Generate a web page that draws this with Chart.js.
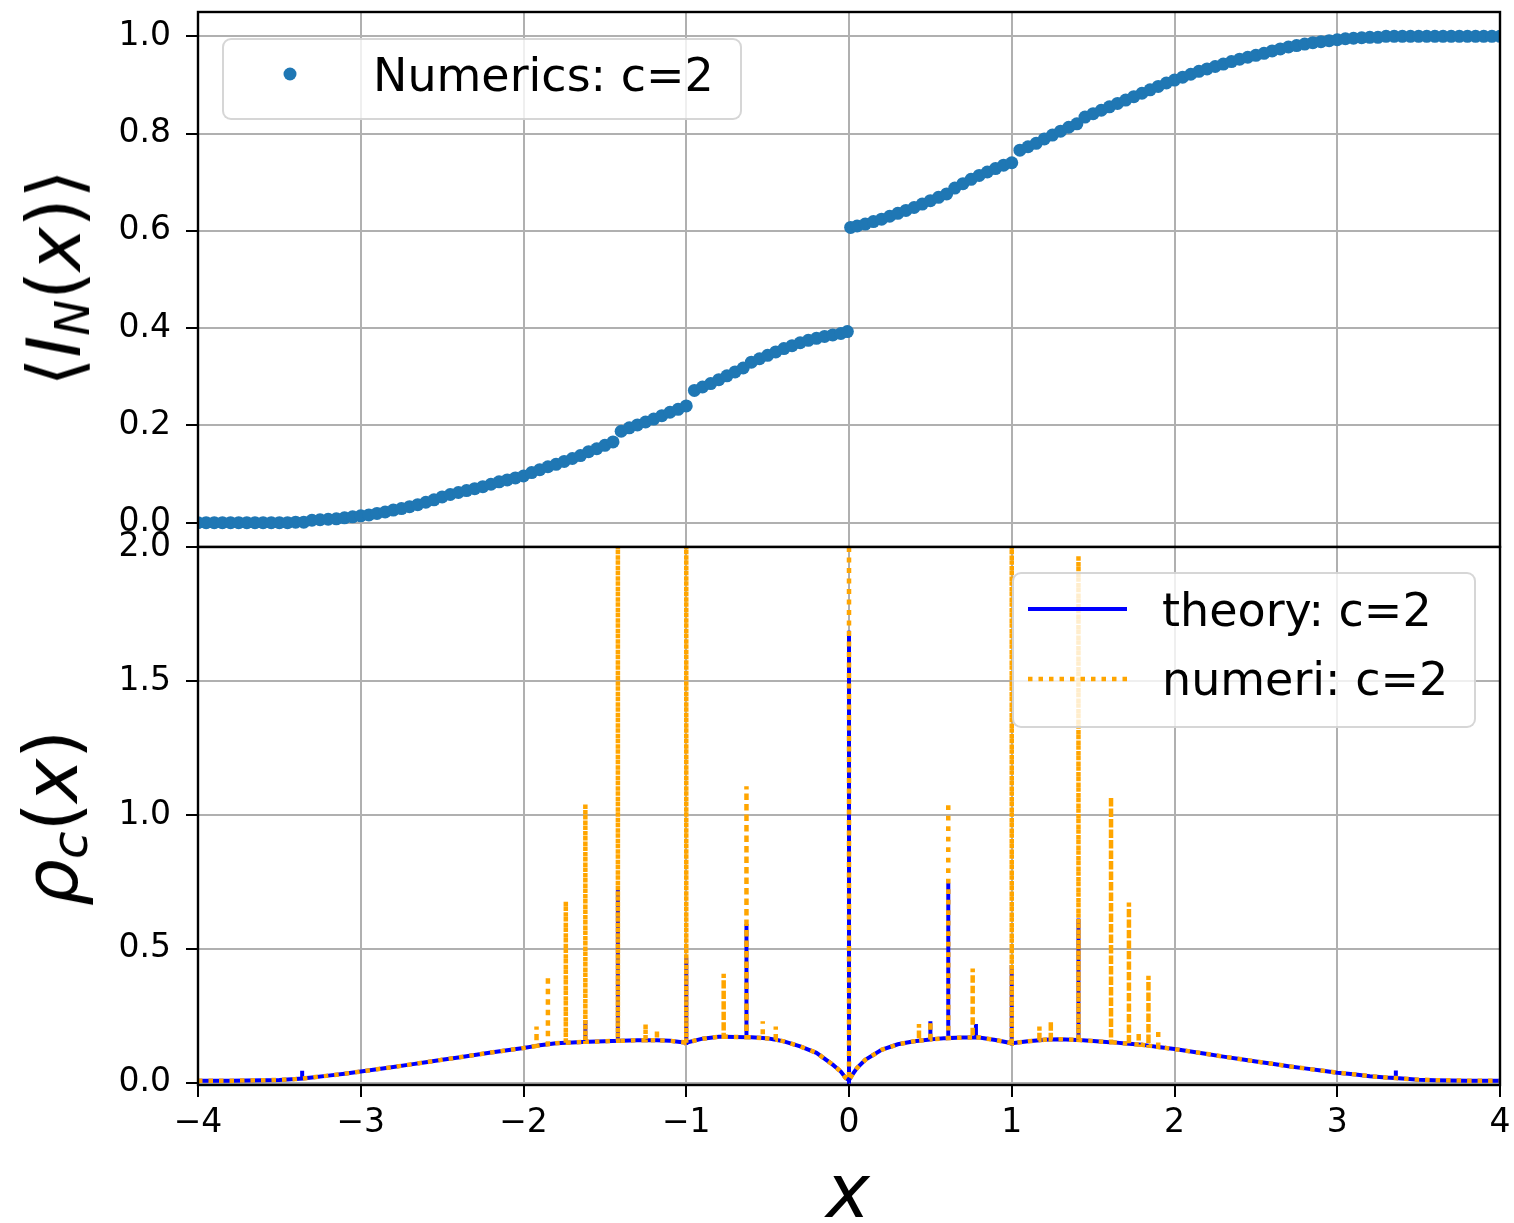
<!DOCTYPE html>
<html lang="en">
<head>
<meta charset="UTF-8" />
<title>Counting function and density, c=2</title>
<script src="https://cdn.jsdelivr.net/npm/chart.js"></script>
<style>
  body { margin: 0; background: #fff; font-family: "DejaVu Sans", sans-serif; }
  .stage { position: relative; width: 1514px; height: 1223px; overflow: hidden; background: #fff; }
  canvas { position: absolute; left: 0; }
  #topChart { top: 0; }
  #bottomChart { top: 520px; }
  .title { position: absolute; font-size: 74px; line-height: 1; white-space: nowrap; color: #000; }
  .title sub { line-height: 0; }
  .rot { transform: translate(-50%, -50%) rotate(-90deg); }
  .legend { position: absolute; box-sizing: border-box; background: rgba(255,255,255,0.8);
            border: 2px solid rgba(204,204,204,0.8); border-radius: 9px; }
  .legend span { position: absolute; font-size: 46px; line-height: 1; white-space: nowrap; color: #000; }
  .legend svg { position: absolute; overflow: visible; }
</style>
</head>
<body>
<div class="stage">
  <canvas id="topChart" width="1514" height="548"></canvas>
  <canvas id="bottomChart" width="1514" height="703"></canvas>

  <div class="title rot" style="left:54px; top:278px;">⟨<i>I</i><sub style="font-size:0.65em; vertical-align:-9px;"><i>N</i></sub>(<i>x</i>)⟩</div>
  <div class="title rot" style="left:51px; top:818px;"><i>ρ</i><sub style="font-size:0.68em; vertical-align:-10px;"><i>c</i></sub>(<i>x</i>)</div>
  <div class="title" style="left:848px; top:1154px; transform: translateX(-50%);"><i>x</i></div>

  <div class="legend" style="left:222px; top:38px; width:520px; height:82px;">
    <svg style="left:59px; top:27px;" width="14" height="14"><circle cx="7" cy="7" r="6.5" fill="#1f77b4" /></svg>
    <span style="left:149px; top:12px;">Numerics: c=2</span>
  </div>
  <div class="legend" style="left:1012px; top:572px; width:464px; height:156px;">
    <svg style="left:14px; top:30px;" width="100" height="10"><line x1="0" y1="5" x2="99" y2="5" stroke="#0000ff" stroke-width="4" /></svg>
    <svg style="left:14px; top:100px;" width="100" height="10"><line x1="0" y1="5" x2="99" y2="5" stroke="#ffa500" stroke-width="4.5" stroke-dasharray="4.5 6" /></svg>
    <span style="left:148px; top:13px;">theory: c=2</span>
    <span style="left:148px; top:82px;">numeri: c=2</span>
  </div>
</div>

<script>
  // axis ticks
  const xTicks = [-4, -3, -2, -1, 0, 1, 2, 3, 4];
  const topTicks = [0, 0.2, 0.4, 0.6, 0.8, 1.0];
  const bottomTicks = [0, 0.5, 1.0, 1.5, 2.0];

  // upper panel: <I_N(x)>, numerics
  const topX = [
    -4.00, -3.95, -3.90, -3.85, -3.80, -3.75, -3.70, -3.65, -3.60, -3.55,
    -3.50, -3.45, -3.40, -3.35, -3.30, -3.25, -3.20, -3.15, -3.10, -3.05,
    -3.00, -2.95, -2.90, -2.85, -2.80, -2.75, -2.70, -2.65, -2.60, -2.55,
    -2.50, -2.45, -2.40, -2.35, -2.30, -2.25, -2.20, -2.15, -2.10, -2.05,
    -2.00, -1.95, -1.90, -1.85, -1.80, -1.75, -1.70, -1.65, -1.60, -1.55,
    -1.50, -1.45, -1.40, -1.35, -1.30, -1.25, -1.20, -1.15, -1.10, -1.05,
    -1.00, -0.95, -0.90, -0.85, -0.80, -0.75, -0.70, -0.65, -0.60, -0.55,
    -0.50, -0.45, -0.40, -0.35, -0.30, -0.25, -0.20, -0.15, -0.10, -0.05,
    -0.01, 0.01,
    0.05, 0.10, 0.15, 0.20, 0.25, 0.30, 0.35, 0.40, 0.45, 0.50,
    0.55, 0.60, 0.65, 0.70, 0.75, 0.80, 0.85, 0.90, 0.95, 1.00,
    1.05, 1.10, 1.15, 1.20, 1.25, 1.30, 1.35, 1.40, 1.45, 1.50,
    1.55, 1.60, 1.65, 1.70, 1.75, 1.80, 1.85, 1.90, 1.95, 2.00,
    2.05, 2.10, 2.15, 2.20, 2.25, 2.30, 2.35, 2.40, 2.45, 2.50,
    2.55, 2.60, 2.65, 2.70, 2.75, 2.80, 2.85, 2.90, 2.95, 3.00,
    3.05, 3.10, 3.15, 3.20, 3.25, 3.30, 3.35, 3.40, 3.45, 3.50,
    3.55, 3.60, 3.65, 3.70, 3.75, 3.80, 3.85, 3.90, 3.95, 4.00
  ];
  const topY = [
    0.000, 0.000, 0.000, 0.000, 0.000, 0.000, 0.000, 0.000, 0.000, 0.000,
    0.000, 0.000, 0.001, 0.001, 0.005, 0.006, 0.007, 0.008, 0.010, 0.012,
    0.014, 0.016, 0.019, 0.022, 0.026, 0.029, 0.033, 0.037, 0.042, 0.047,
    0.053, 0.058, 0.062, 0.066, 0.070, 0.074, 0.079, 0.084, 0.088, 0.092,
    0.096, 0.103, 0.109, 0.115, 0.120, 0.126, 0.132, 0.138, 0.146, 0.152,
    0.159, 0.166, 0.188, 0.195, 0.201, 0.207, 0.213, 0.220, 0.227, 0.233,
    0.240, 0.272, 0.279, 0.286, 0.294, 0.302, 0.310, 0.318, 0.330, 0.337,
    0.344, 0.351, 0.358, 0.364, 0.370, 0.375, 0.379, 0.383, 0.386, 0.389,
    0.393, 0.607,
    0.610, 0.614, 0.619, 0.624, 0.630, 0.636, 0.642, 0.648, 0.655, 0.662,
    0.669, 0.676, 0.688, 0.697, 0.706, 0.714, 0.721, 0.728, 0.735, 0.740,
    0.766, 0.773, 0.780, 0.789, 0.797, 0.805, 0.813, 0.820, 0.834, 0.841,
    0.848, 0.855, 0.862, 0.869, 0.876, 0.883, 0.890, 0.897, 0.904, 0.910,
    0.916, 0.922, 0.928, 0.933, 0.938, 0.943, 0.948, 0.953, 0.957, 0.961,
    0.965, 0.970, 0.974, 0.978, 0.981, 0.984, 0.987, 0.989, 0.991, 0.993,
    0.995, 0.996, 0.997, 0.998, 0.998, 1.000, 1.000, 1.000, 1.000, 1.000,
    1.000, 1.000, 1.000, 1.000, 1.000, 1.000, 1.000, 1.000, 1.000, 1.000
  ];

  // lower panel: rho_c(x); each spike is three points at the same x (foot, peak, foot)
  const rhoX = [
    -4.00, -3.90, -3.80, -3.70, -3.60, -3.50, -3.40,
    -3.36, -3.36, -3.36,
    -3.30, -3.20, -3.10, -3.00, -2.90, -2.80, -2.70, -2.60, -2.50, -2.40,
    -2.30, -2.20, -2.10, -2.00,
    -1.92, -1.92, -1.92,
    -1.90,
    -1.85, -1.85, -1.85,
    -1.80,
    -1.74, -1.74, -1.74,
    -1.70,
    -1.62, -1.62, -1.62,
    -1.60, -1.50,
    -1.42, -1.42, -1.42,
    -1.40, -1.30,
    -1.25, -1.25, -1.25,
    -1.20,
    -1.18, -1.18, -1.18,
    -1.10,
    -1.00, -1.00, -1.00,
    -0.90, -0.80,
    -0.77, -0.77, -0.77,
    -0.70,
    -0.63, -0.63, -0.63,
    -0.60,
    -0.53, -0.53, -0.53,
    -0.50,
    -0.45, -0.45, -0.45,
    -0.40, -0.30, -0.20, -0.10, -0.05, -0.02,
    0.00, 0.00, 0.00,
    0.02, 0.05, 0.10, 0.20, 0.30, 0.40,
    0.43, 0.43, 0.43,
    0.50, 0.50, 0.50,
    0.60,
    0.61, 0.61, 0.61,
    0.70,
    0.76, 0.76, 0.76,
    0.78, 0.78, 0.78,
    0.80, 0.90,
    1.00, 1.00, 1.00,
    1.10,
    1.17, 1.17, 1.17,
    1.20,
    1.24, 1.24, 1.24,
    1.30, 1.40,
    1.41, 1.41, 1.41,
    1.50, 1.60,
    1.61, 1.61, 1.61,
    1.70,
    1.72, 1.72, 1.72,
    1.78, 1.78, 1.78,
    1.80,
    1.84, 1.84, 1.84,
    1.90, 1.90, 1.90,
    2.00, 2.10, 2.20, 2.30, 2.40, 2.50, 2.60, 2.70, 2.80, 2.90,
    3.00, 3.10, 3.20, 3.30,
    3.36, 3.36, 3.36,
    3.40, 3.50, 3.60, 3.70, 3.80, 3.90, 4.00
  ];
  const theoryRho = [
    0.008, 0.008, 0.008, 0.009, 0.010, 0.011, 0.014,
    0.016, 0.045, 0.016,
    0.020, 0.027, 0.034, 0.042, 0.051, 0.059, 0.068, 0.077, 0.086, 0.095,
    0.104, 0.113, 0.122, 0.130,
    0.138, 0.138, 0.138,
    0.140,
    0.144, 0.144, 0.144,
    0.148,
    0.150, 0.150, 0.150,
    0.151,
    0.153, 0.235, 0.153,
    0.153, 0.155,
    0.157, 0.720, 0.157,
    0.157, 0.159,
    0.159, 0.159, 0.159,
    0.159,
    0.159, 0.159, 0.159,
    0.157,
    0.150, 0.467, 0.150,
    0.165, 0.172,
    0.172, 0.172, 0.172,
    0.171,
    0.170, 0.593, 0.170,
    0.170,
    0.167, 0.167, 0.167,
    0.166,
    0.161, 0.161, 0.161,
    0.155, 0.136, 0.112, 0.068, 0.042, 0.018,
    0.010, 1.687, 0.010,
    0.030, 0.056, 0.086, 0.123, 0.144, 0.155,
    0.157, 0.157, 0.157,
    0.162, 0.230, 0.162,
    0.167,
    0.167, 0.747, 0.167,
    0.169,
    0.169, 0.169, 0.169,
    0.169, 0.220, 0.169,
    0.169, 0.160,
    0.148, 0.440, 0.148,
    0.155,
    0.159, 0.159, 0.159,
    0.161,
    0.162, 0.162, 0.162,
    0.163, 0.160,
    0.160, 0.613, 0.160,
    0.156, 0.152,
    0.152, 0.152, 0.152,
    0.147,
    0.146, 0.146, 0.146,
    0.143, 0.143, 0.143,
    0.142,
    0.139, 0.139, 0.139,
    0.134, 0.134, 0.134,
    0.126, 0.117, 0.108, 0.098, 0.089, 0.080, 0.071, 0.062, 0.054, 0.046,
    0.038, 0.032, 0.025, 0.020,
    0.018, 0.046, 0.018,
    0.016, 0.012, 0.010, 0.009, 0.008, 0.008, 0.008
  ];
  const numeriRho = [
    0.008, 0.008, 0.008, 0.009, 0.010, 0.011, 0.014,
    0.016, 0.016, 0.016,
    0.020, 0.027, 0.034, 0.042, 0.051, 0.059, 0.068, 0.077, 0.086, 0.095,
    0.104, 0.113, 0.122, 0.130,
    0.138, 0.210, 0.138,
    0.140,
    0.144, 0.400, 0.144,
    0.148,
    0.150, 0.678, 0.150,
    0.151,
    0.153, 1.040, 0.153,
    0.153, 0.155,
    0.157, 2.500, 0.157,
    0.157, 0.159,
    0.159, 0.220, 0.159,
    0.159,
    0.159, 0.200, 0.159,
    0.157,
    0.150, 2.500, 0.150,
    0.165, 0.172,
    0.172, 0.407, 0.172,
    0.171,
    0.170, 1.107, 0.170,
    0.170,
    0.167, 0.230, 0.167,
    0.166,
    0.161, 0.210, 0.161,
    0.155, 0.136, 0.112, 0.068, 0.042, 0.018,
    0.010, 2.500, 0.010,
    0.030, 0.056, 0.086, 0.123, 0.144, 0.155,
    0.157, 0.220, 0.157,
    0.162, 0.230, 0.162,
    0.167,
    0.167, 1.047, 0.167,
    0.169,
    0.169, 0.427, 0.169,
    0.169, 0.169, 0.169,
    0.169, 0.160,
    0.148, 2.500, 0.148,
    0.155,
    0.159, 0.210, 0.159,
    0.161,
    0.162, 0.230, 0.162,
    0.163, 0.160,
    0.160, 1.966, 0.160,
    0.156, 0.152,
    0.152, 1.067, 0.152,
    0.147,
    0.146, 0.673, 0.146,
    0.143, 0.190, 0.143,
    0.142,
    0.139, 0.400, 0.139,
    0.134, 0.200, 0.134,
    0.126, 0.117, 0.108, 0.098, 0.089, 0.080, 0.071, 0.062, 0.054, 0.046,
    0.038, 0.032, 0.025, 0.020,
    0.018, 0.018, 0.018,
    0.016, 0.012, 0.010, 0.009, 0.008, 0.008, 0.008
  ];

  Chart.defaults.font.family = '"DejaVu Sans", sans-serif';
  Chart.defaults.font.size = 33;
  Chart.defaults.color = '#000';

  const gridStyle = { color: '#b0b0b0', lineWidth: 2, tickColor: '#000', tickWidth: 2, tickLength: 12 };

  // black box around the plot area, drawn over the data like matplotlib spines
  const framePlugin = {
    id: 'frame',
    afterDatasetsDraw(chart) {
      const { ctx, chartArea: a } = chart;
      ctx.save();
      ctx.strokeStyle = '#000';
      ctx.lineWidth = 2.4;
      ctx.strokeRect(a.left, a.top, a.right - a.left, a.bottom - a.top);
      ctx.restore();
    }
  };

  // keep the plot area exactly where the layout padding puts it
  function noScalePadding(s) {
    s.paddingTop = 0;
    s.paddingBottom = 0;
    s.paddingLeft = 0;
    s.paddingRight = 0;
  }

  function yAxis(min, max, tickList) {
    return {
      type: 'linear',
      min: min,
      max: max,
      afterFit: s => { s.width = 198; noScalePadding(s); },
      afterBuildTicks: s => { s.ticks = tickList.map(v => ({ value: v })); },
      grid: gridStyle,
      border: { display: false },
      ticks: { padding: 15, callback: v => v.toFixed(1) }
    };
  }

  new Chart(document.getElementById('topChart'), {
    type: 'scatter',
    data: {
      datasets: [{
        label: 'Numerics: c=2',
        data: topX.map((x, i) => ({ x: x, y: topY[i] })),
        backgroundColor: '#1f77b4',
        borderWidth: 0,
        pointRadius: 6.5,
        pointHoverRadius: 6.5,
        clip: 0
      }]
    },
    options: {
      responsive: false,
      animation: false,
      devicePixelRatio: 1,
      layout: { autoPadding: false, padding: { left: 0, right: 14, top: 12, bottom: 1 } },
      plugins: { legend: { display: false }, tooltip: { enabled: false } },
      scales: {
        x: {
          type: 'linear', min: -4, max: 4,
          afterBuildTicks: s => { s.ticks = xTicks.map(v => ({ value: v })); },
          afterFit: s => { s.height = 0; noScalePadding(s); },
          grid: { color: '#b0b0b0', lineWidth: 2, drawTicks: false },
          border: { display: false },
          ticks: { display: false }
        },
        y: yAxis(-0.05, 1.05, topTicks)
      }
    },
    plugins: [framePlugin]
  });

  new Chart(document.getElementById('bottomChart'), {
    type: 'line',
    data: {
      datasets: [
        {
          label: 'numeri: c=2',
          data: rhoX.map((x, i) => ({ x: x, y: numeriRho[i] })),
          borderColor: '#ffa500',
          borderWidth: 4.5,
          borderDash: [4.5, 6],
          pointRadius: 0,
          tension: 0,
          clip: 0,
          order: 0
        },
        {
          label: 'theory: c=2',
          data: rhoX.map((x, i) => ({ x: x, y: theoryRho[i] })),
          borderColor: '#0000ff',
          borderWidth: 4,
          pointRadius: 0,
          tension: 0,
          clip: 0,
          order: 1
        }
      ]
    },
    options: {
      responsive: false,
      animation: false,
      devicePixelRatio: 1,
      layout: { autoPadding: false, padding: { left: 0, right: 14, top: 27, bottom: 0 } },
      plugins: { legend: { display: false }, tooltip: { enabled: false } },
      scales: {
        x: {
          type: 'linear', min: -4, max: 4,
          afterBuildTicks: s => { s.ticks = xTicks.map(v => ({ value: v })); },
          afterFit: s => { s.height = 138; noScalePadding(s); },
          grid: gridStyle,
          border: { display: false },
          ticks: {
            padding: 7, maxRotation: 0, autoSkip: false,
            callback: v => (v < 0 ? '\u2212' + (-v) : String(v))
          }
        },
        y: yAxis(-0.008, 2.0, bottomTicks)
      }
    },
    plugins: [framePlugin]
  });
</script>
</body>
</html>
